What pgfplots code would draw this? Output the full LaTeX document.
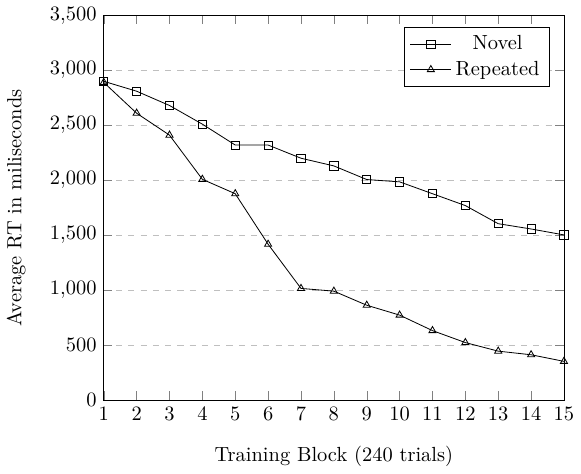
\documentclass[border=0pt]{standalone}
\usepackage{pgfplots}
\pgfplotsset{compat=1.18}
\begin{document}
\begin{tikzpicture}
\begin{axis}[
  scale only axis,
  width=225pt, height=188pt,
  xmin=1, xmax=15, ymin=0, ymax=3500,
  xtick={1,...,15},
  ytick={0,500,...,3500},
  ymajorgrids, grid style={dashed, gray!50},
  xlabel={Training Block (240 trials)},
  ylabel={Average RT in miliseconds},
  xlabel style={yshift=-6pt},
  ylabel style={yshift=5pt},
  legend pos=north east,
  legend cell align=center,
  legend image code/.code={\draw[mark repeat=2,mark phase=2] plot coordinates {(0cm,0cm) (0.35cm,0cm) (0.7cm,0cm)};},
]
\addplot[black, mark=square, mark options={solid}] coordinates {
(1,2900) (2,2810) (3,2680) (4,2510) (5,2320) (6,2320) (7,2200) (8,2130)
(9,2006) (10,1985) (11,1877) (12,1769) (13,1604) (14,1556) (15,1502)};
\addlegendentry{Novel}
\addplot[black, mark=triangle, mark options={solid}] coordinates {
(1,2890) (2,2610) (3,2410) (4,2008) (5,1877) (6,1417) (7,1015) (8,990)
(9,862) (10,772) (11,631) (12,522) (13,444) (14,411) (15,351)};
\addlegendentry{Repeated}
\end{axis}
\end{tikzpicture}
\end{document}
